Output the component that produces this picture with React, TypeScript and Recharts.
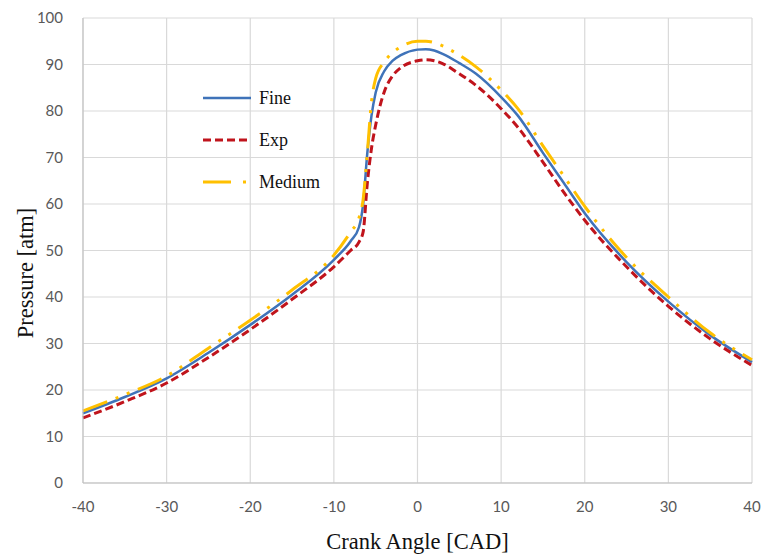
import { LineChart, Line, XAxis, YAxis, CartesianGrid, Label } from 'recharts'

// crank angle samples (CAD), finer around the combustion knee
const angles = [-40, -35, -30, -25, -20, -15, -10, -8, -7, -6.5, -6, -5.5, -5, -4, -3, -2, 0, 1, 2, 3, 5, 7, 10, 12, 15, 17.5, 20, 25, 30, 35, 40]

const fine = [15, 18.5, 22.5, 28, 34, 40.5, 48, 52, 55, 60, 71, 79, 84, 88.5, 90.8, 92, 93.2, 93.3, 93, 92.3, 90.3, 88, 83, 79, 71, 64.5, 58, 47.5, 39, 31.8, 26]
const exp = [14, 17.5, 21.5, 27, 33, 39.5, 46.5, 50, 51.8, 54, 64.5, 72, 77, 84, 87.5, 89.3, 90.8, 91, 90.8, 90.2, 88, 85.5, 80.5, 76.5, 69, 62.5, 56.5, 46.5, 38, 31, 25.3]
const medium = [15.5, 19, 23, 29, 35, 41.5, 49, 54, 57, 61, 71, 82, 87, 90.5, 92.5, 93.8, 95, 95, 94.7, 94, 92, 89.5, 84.5, 80.5, 72.5, 66, 59.5, 48.5, 40, 32.3, 26.5]

const xTicks = [-40, -30, -20, -10, 0, 10, 20, 30, 40]
const yTicks = [0, 10, 20, 30, 40, 50, 60, 70, 80, 90, 100]

const series = [
  { key: 'fine', name: 'Fine', color: '#3f73b9', width: 2.5, dash: undefined },
  { key: 'exp', name: 'Exp', color: '#c0141c', width: 3, dash: '8 4' },
  { key: 'medium', name: 'Medium', color: '#ffc000', width: 3, dash: '26 9 3 9 3 9' },
]

const data = angles.map((a, i) => ({ angle: a, fine: fine[i], exp: exp[i], medium: medium[i] }))

const serif = '"Liberation Serif", "Times New Roman", serif'
const tickStyle = { fontFamily: 'Lato, "Open Sans", sans-serif', fontSize: 15, fill: '#595959' }
const titleStyle = { fontFamily: serif, fontSize: 22.5, fill: '#111' }

function LegendBox() {
  return (
    <div style={{ position: 'absolute', left: 202, top: 77, fontFamily: serif, fontSize: 18, color: '#111' }}>
      {series.map((s) => (
        <div key={s.key} style={{ display: 'flex', alignItems: 'center', height: 42 }}>
          <svg width={50} height={8} style={{ marginRight: 7 }}>
            <line x1={1} y1={4} x2={49} y2={4} stroke={s.color} strokeWidth={s.width} strokeDasharray={s.key === 'medium' ? '28 12 3 9' : s.dash} />
          </svg>
          <span>{s.name}</span>
        </div>
      ))}
    </div>
  )
}

export default function App() {
  return (
    <div style={{ position: 'fixed', left: 0, top: 0, width: 763, height: 555, background: '#fff' }}>
      <LineChart width={763} height={555} data={data} margin={{ top: 18, right: 11, bottom: 0, left: 0 }}>
        <CartesianGrid stroke="#d9d9d9" strokeWidth={1.2} />
        <XAxis
          dataKey="angle"
          type="number"
          domain={[-40, 40]}
          ticks={xTicks}
          tickLine={false}
          axisLine={{ stroke: '#bfbfbf' }}
          tick={tickStyle}
          tickMargin={12}
          height={72}
        >
          <Label value="Crank Angle [CAD]" position="insideBottom" offset={6} style={titleStyle} />
        </XAxis>
        <YAxis
          type="number"
          domain={[0, 100]}
          ticks={yTicks}
          tickLine={false}
          axisLine={{ stroke: '#bfbfbf' }}
          tick={tickStyle}
          tickMargin={14}
          width={83}
        >
          <Label
            content={() => (
              <text x={25} y={273} transform="rotate(-90 25 273)" textAnchor="middle" dominantBaseline="central" style={titleStyle}>
                Pressure [atm]
              </text>
            )}
          />
        </YAxis>
        {series.map((s) => (
          <Line
            key={s.key}
            type="monotone"
            dataKey={s.key}
            name={s.name}
            stroke={s.color}
            strokeWidth={s.width}
            strokeDasharray={s.dash}
            dot={false}
            activeDot={false}
            isAnimationActive={false}
          />
        ))}
      </LineChart>
      <LegendBox />
    </div>
  )
}
